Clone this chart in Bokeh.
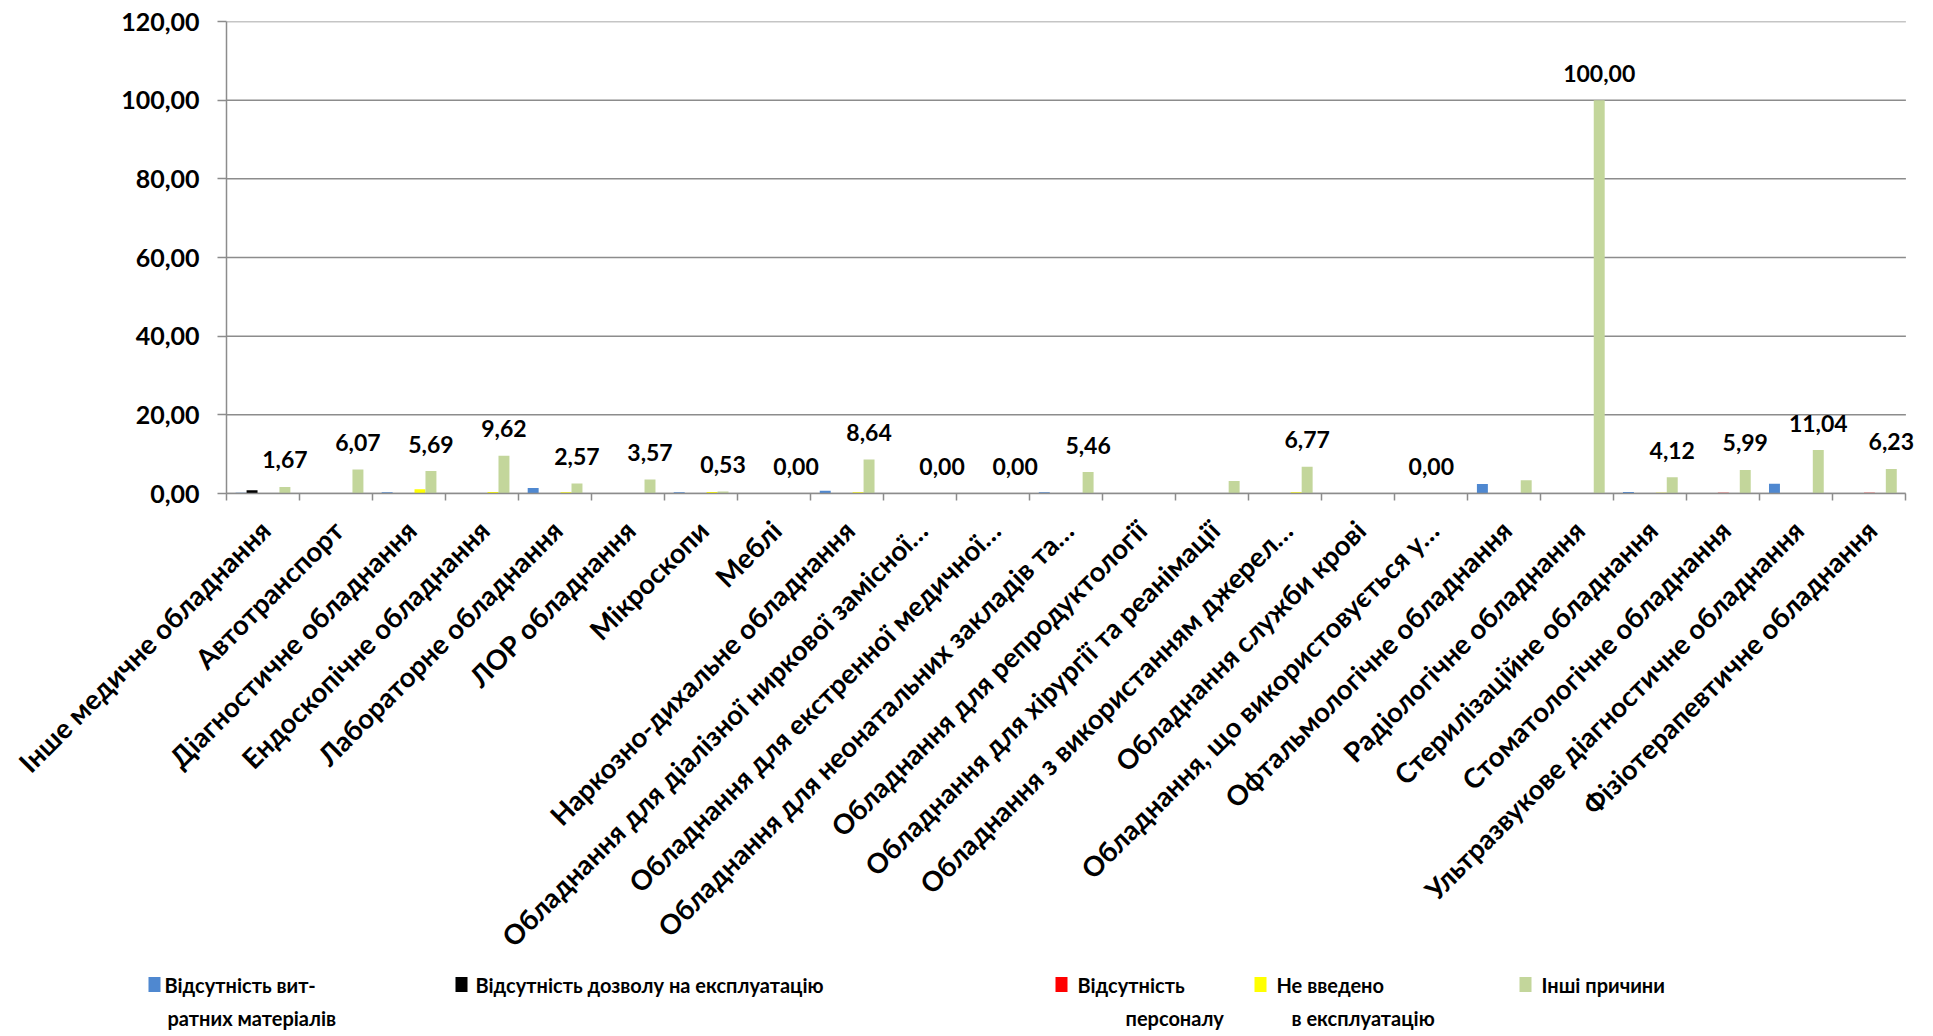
import math
from bokeh.plotting import figure
from bokeh.models import (ColumnDataSource, Range1d, FixedTicker, LinearAxis,
                          CustomJSTickFormatter, Label)
from bokeh.transform import dodge
from bokeh.embed import file_html
from bokeh.resources import INLINE
from bokeh.core.properties import value

# ---------------- data ----------------
categories = [
    "Інше медичне обладнання",
    "Автотранспорт",
    "Діагностичне обладнання",
    "Ендоскопічне обладнання",
    "Лабораторне обладнання",
    "ЛОР обладнання",
    "Мікроскопи",
    "Меблі",
    "Наркозно-дихальне обладнання",
    "Обладнання для діалізної ниркової замісної…",
    "Обладнання для екстренної медичної…",
    "Обладнання для неонатальних закладів та…",
    "Обладнання для репродуктології",
    "Обладнання для хірургії та реанімації",
    "Обладнання з використанням джерел…",
    "Обладнання служби крові",
    "Обладнання, що використовується у…",
    "Офтальмологічне обладнання",
    "Радіологічне обладнання",
    "Стерилізаційне обладнання",
    "Стоматологічне обладнання",
    "Ультразвукове діагностичне обладнання",
    "Фізіотерапевтичне обладнання",
]

no_consumables = [0.2, 0, 0.3, 0, 1.4, 0, 0.3, 0, 0.7, 0, 0, 0.3, 0, 0, 0, 0, 0, 2.4, 0, 0.4, 0, 2.5, 0]
no_permit      = [0.8, 0, 0, 0, 0, 0, 0, 0, 0, 0, 0, 0, 0, 0, 0, 0, 0, 0, 0, 0, 0, 0, 0]
no_staff       = [0, 0, 0, 0, 0, 0, 0, 0, 0, 0, 0, 0, 0, 0, 0, 0, 0, 0, 0, 0, 0.2, 0, 0.2]
not_commiss    = [0, 0, 1.1, 0.4, 0.3, 0, 0.4, 0, 0.3, 0, 0, 0, 0, 0, 0.3, 0, 0, 0, 0, 0.2, 0, 0, 0]
other_reasons  = [1.67, 6.07, 5.69, 9.62, 2.57, 3.57, 0.53, 0.00, 8.64, 0.00, 0.00, 5.46,
                  0, 3.2, 6.77, 0, 0, 3.4, 100.00, 4.12, 5.99, 11.04, 6.23]

# data labels shown in the chart (None = no label) and the series each sits on
label_values = [1.67, 6.07, 5.69, 9.62, 2.57, 3.57, 0.53, 0.00, 8.64, 0.00, 0.00, 5.46,
                None, None, 6.77, None, 0.00, None, 100.00, 4.12, 5.99, 11.04, 6.23]
label_series = [4, 4, 4, 4, 4, 4, 4, 4, 4, 4, 4, 4, 4, 4, 4, 4, 2, 4, 4, 4, 4, 4, 4]

series_labels = [
    ["Відсутність вит-", "ратних матеріалів"],
    ["Відсутність дозволу на експлуатацію"],
    ["Відсутність", "персоналу"],
    ["Не введено", "в експлуатацію"],
    ["Інші причини"],
]
y_ticks = [0, 20, 40, 60, 80, 100, 120]

# ---------------- styles / layout ----------------
colors = ["#4F88D0", "#000000", "#FF0000", "#FFFF00", "#C3D69B"]
FONT = "Lato"
GRID = "#8C8C8C"
W, H_MAIN, H_LEG = 1925, 974, 60
FRAME_L, FRAME_T, FRAME_B = 226, 21, 493
X_PAD = 0.2                      # a little room right of the last category for its label
CAT_PX = 73.0
FRAME_R = FRAME_L + round(CAT_PX * (len(categories) + X_PAD))
Y_MAX = 120

series = [no_consumables, no_permit, no_staff, not_commiss, other_reasons]
n = len(categories)
bar_w = 0.15
offsets = [(k - 2) * bar_w for k in range(5)]
label_shift = 0.03

src = ColumnDataSource(dict(
    xc=[i + 0.5 for i in range(n)],
    s0=no_consumables, s1=no_permit, s2=no_staff, s3=not_commiss, s4=other_reasons,
))

p = figure(width=W, height=H_MAIN, x_range=Range1d(0, n + X_PAD), y_range=Range1d(0, Y_MAX),
           output_backend="svg", toolbar_location=None,
           min_border_left=FRAME_L, min_border_right=W - FRAME_R, min_border_top=FRAME_T,
           min_border_bottom=H_MAIN - FRAME_B)
p.outline_line_color = None
p.grid.visible = False

# horizontal gridlines spanning the category area only
p.segment(x0=[0] * len(y_ticks), x1=[n] * len(y_ticks), y0=y_ticks, y1=y_ticks,
          line_color=GRID, line_width=1.5)

for k in range(5):
    p.vbar(x=dodge("xc", offsets[k]), top="s%d" % k, width=bar_w, source=src,
           fill_color=colors[k], line_color=None)

# y axis
p.yaxis.ticker = FixedTicker(ticks=y_ticks)
p.yaxis.formatter = CustomJSTickFormatter(code="return tick.toFixed(2).replace('.', ',')")
p.yaxis.major_label_text_font = FONT
p.yaxis.major_label_text_font_style = "bold"
p.yaxis.major_label_text_font_size = "25px"
p.yaxis.major_label_text_color = "#000000"
p.yaxis.major_label_standoff = 18
p.yaxis.major_tick_out = 9
p.yaxis.major_tick_in = 0
p.yaxis.minor_tick_line_color = None
p.yaxis.axis_line_color = GRID
p.yaxis.major_tick_line_color = GRID
p.yaxis.axis_line_width = 1.5
p.yaxis.major_tick_line_width = 1.5

# x axis: tick marks between categories
p.xaxis.ticker = FixedTicker(ticks=list(range(n + 1)))
p.xaxis.formatter = CustomJSTickFormatter(code="return ''")
p.xaxis.bounds = (0, n)
p.xaxis.major_tick_out = 7
p.xaxis.major_tick_in = 0
p.xaxis.minor_tick_line_color = None
p.xaxis.axis_line_color = GRID
p.xaxis.major_tick_line_color = GRID
p.xaxis.axis_line_width = 1.5
p.xaxis.major_tick_line_width = 1.5
p.xaxis.major_label_standoff = 0

# x axis: category names
lab_axis = LinearAxis(
    ticker=FixedTicker(ticks=[i + 0.5 + label_shift for i in range(n)]),
    formatter=CustomJSTickFormatter(args=dict(labels=categories, sh=label_shift),
                                    code="return labels[Math.round(tick - 0.5 - sh)]"),
)
lab_axis.axis_line_color = None
lab_axis.major_tick_line_color = None
lab_axis.minor_tick_line_color = None
lab_axis.major_tick_out = 0
lab_axis.major_tick_in = 0
lab_axis.major_label_orientation = math.pi / 4
lab_axis.major_label_standoff = 25
lab_axis.major_label_text_font = FONT
lab_axis.major_label_text_font_style = "bold"
lab_axis.major_label_text_font_size = "27.5px"
lab_axis.major_label_text_color = "#000000"
p.add_layout(lab_axis, "below")

# data labels
for i, v in enumerate(label_values):
    if v is None:
        continue
    k = label_series[i]
    p.add_layout(Label(x=i + 0.5 + offsets[k], y=series[k][i], y_offset=27,
                       text=("%.2f" % v).replace(".", ","),
                       text_align="center", text_baseline="middle",
                       text_font=FONT, text_font_style="bold",
                       text_font_size="23px", text_color="#000000"))

# ---------------- legend strip (own root, pixel coordinates) ----------------
lg = figure(width=W, height=H_LEG, x_range=Range1d(0, W), y_range=Range1d(0, H_LEG),
            output_backend="svg", toolbar_location=None,
            x_axis_type=None, y_axis_type=None, min_border=0)
lg.outline_line_color = None
lg.grid.visible = False
sq_x = [154, 461, 1061, 1260, 1525]
txt_x = [[164, 167], [475], [1077, 1125], [1276, 1291], [1541]]
line_y = [50, 17]
for k in range(5):
    lg.rect(x=[sq_x[k]], y=[line_y[0]], width=12, height=15, width_units="screen",
            height_units="screen", fill_color=colors[k], line_color=None)
    for j, t in enumerate(series_labels[k]):
        lg.text(x=[txt_x[k][j]], y=[line_y[j]], text=[t], text_font=value(FONT),
                text_font_style="bold", text_font_size="20px", text_baseline="middle",
                text_align="left", text_color="#000000")

open("out.html", "w").write(file_html([p, lg], INLINE))
